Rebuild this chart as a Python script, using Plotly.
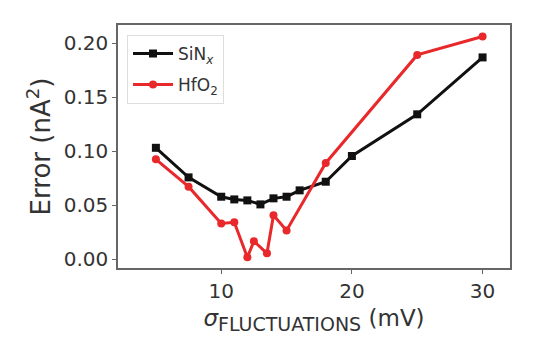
import plotly.graph_objects as go

sinx_x = [5, 7.5, 10, 11, 12, 13, 14, 15, 16, 18, 20, 25, 30]
sinx_y = [0.103, 0.0756, 0.0577, 0.0552, 0.0543, 0.0506, 0.0562, 0.0577, 0.0636, 0.0716, 0.0954, 0.134, 0.1867]

hfo2_x = [5, 7.5, 10, 11, 12, 12.5, 13.5, 14, 15, 18, 25, 30]
hfo2_y = [0.0923, 0.067, 0.033, 0.034, 0.0016, 0.0165, 0.0053, 0.0405, 0.0265, 0.089, 0.189, 0.206]

x_ticks = [10, 20, 30]
y_ticks = [0.00, 0.05, 0.10, 0.15, 0.20]
y_tick_text = ["0.00", "0.05", "0.10", "0.15", "0.20"]

FONT = "DejaVu Sans"

fig = go.Figure()
fig.add_trace(go.Scatter(
    x=sinx_x, y=sinx_y, mode="lines+markers", name="SiN<sub><i>x</i></sub>",
    legendgroup="a",
    line=dict(color="#111111", width=3),
    marker=dict(symbol="square", size=8, color="#111111"),
))
fig.add_trace(go.Scatter(
    x=hfo2_x, y=hfo2_y, mode="lines+markers", name="HfO<sub>2</sub>",
    legendgroup="b",
    line=dict(color="#e8282b", width=3),
    marker=dict(symbol="circle", size=8, color="#e8282b"),
))

axis_common = dict(
    showline=True, mirror=True, linecolor="#666666", linewidth=1.5,
    ticks="outside", ticklen=4, tickcolor="#666666", tickwidth=1,
    showgrid=False, zeroline=False,
    tickfont=dict(family=FONT, size=20, color="#333333"),
)

fig.update_layout(
    width=552, height=350,
    margin=dict(l=118, r=42, t=25, b=82),
    paper_bgcolor="white", plot_bgcolor="white",
    font=dict(family=FONT, color="#333333"),
    xaxis=dict(
        range=[2.1, 32.1], tickvals=x_ticks,
        title=dict(text="<i>σ</i><sub><span style='font-size:19px'>FLUCTUATIONS</span></sub> (mV)",
                   font=dict(family=FONT, size=23, color="#333333"), standoff=8),
        **axis_common,
    ),
    yaxis=dict(
        range=[-0.0083, 0.2167], tickvals=y_ticks, ticktext=y_tick_text,
        title=dict(text="Error (nA<sup>2</sup>)",
                   font=dict(family=FONT, size=26, color="#333333"), standoff=6),
        **axis_common,
    ),
    legend=dict(
        x=0.023, y=0.959, xanchor="left", yanchor="top",
        bgcolor="white", bordercolor="#dddddd", borderwidth=1,
        font=dict(family=FONT, size=17, color="#333333"),
        itemwidth=40, traceorder="grouped", tracegroupgap=6,
    ),
    showlegend=True,
)

fig.write_html("out.html")
